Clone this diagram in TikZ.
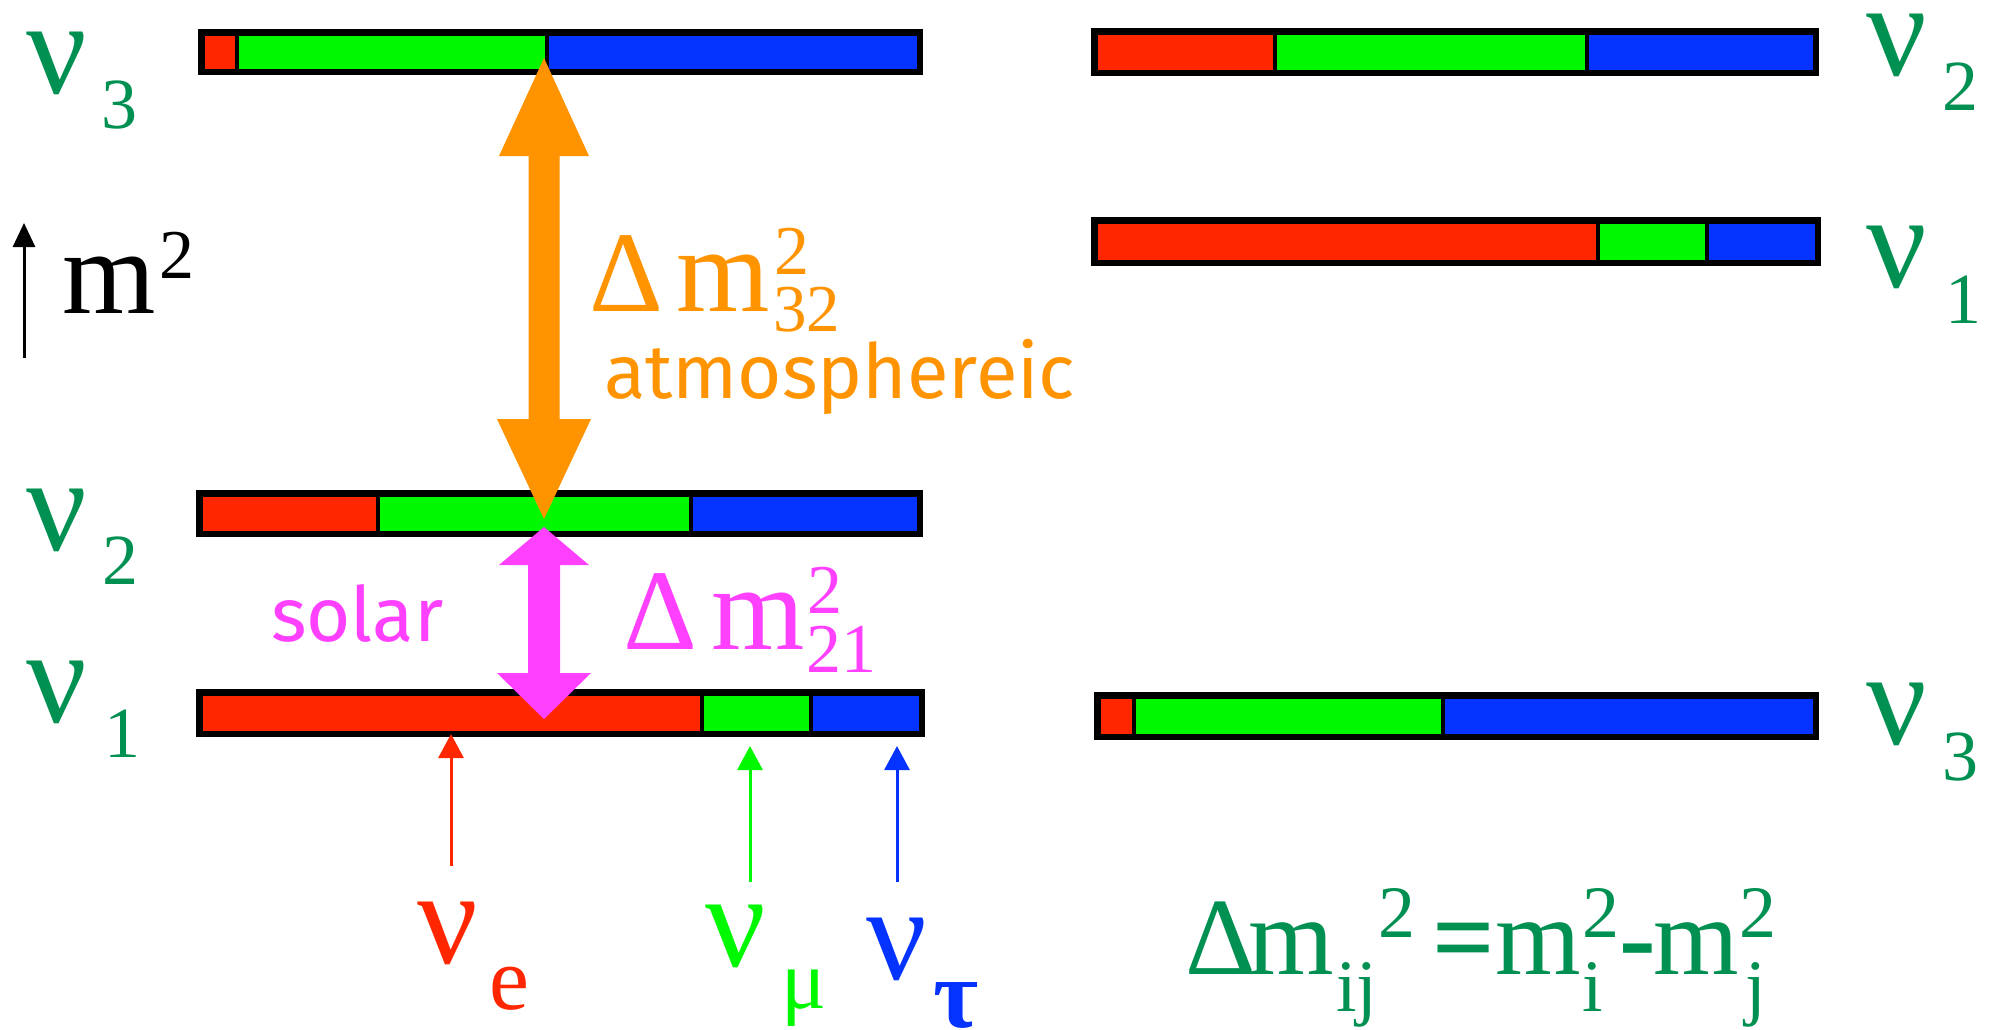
\documentclass[tikz,border=0pt]{standalone}
\usepackage{fontspec}
\setmainfont{Liberation Serif}
\newfontfamily\handfont{Fira Sans}
\usetikzlibrary{arrows.meta,calc}
\definecolor{cred}{HTML}{FF2600}
\definecolor{cgreen}{HTML}{00F900}
\definecolor{cblue}{HTML}{0433FF}
\definecolor{corange}{HTML}{FF9300}
\definecolor{cmag}{HTML}{FF40FF}
\definecolor{cmoss}{HTML}{009051}
\newcommand\mixbar[7]{%
  \fill[cred] (#2,#3) rectangle (#6,#5);
  \fill[cgreen] (#6,#3) rectangle (#7,#5);
  \fill[cblue] (#7,#3) rectangle (#4,#5);
  \draw[divider] (#6,#3) -- (#6,#5);
  \draw[divider] (#7,#3) -- (#7,#5);
  \draw[barframe] (#2+3.25,#3+3.25) rectangle (#4-3.25,#5-3.25);
  \coordinate (#1) at ({(#2+#4)/2},{(#3+#5)/2});
}
\tikzset{
  divider/.style={draw=black, line width=4.5pt},
  barframe/.style={draw=black, line width=6.5pt},
  lbl/.style={inner sep=0pt, outer sep=0pt, anchor=base west},
  nu/.style={lbl, text=cmoss, text height=0.48em, text depth=0pt, font=\fontsize{134}{134}\selectfont},
  nuidx/.style={lbl, text=cmoss, text height=0.68em, text depth=0pt, font=\fontsize{72}{72}\selectfont},
  big/.style={lbl, text height=0.66em, text depth=0pt, font=\fontsize{120}{120}\selectfont},
  scr/.style={lbl, text height=0.68em, text depth=0pt, font=\fontsize{70}{70}\selectfont},
  hand/.style={lbl, text height=0.72em, text depth=0.2em, font=\handfont\fontsize{76}{76}\selectfont},
  fbig/.style={lbl, text=cmoss, text height=0.66em, text depth=0pt, font=\fontsize{110}{110}\selectfont},
  fscr/.style={lbl, text=cmoss, text height=0.68em, text depth=0.2em, font=\fontsize{74}{74}\selectfont},
  flav/.style={line width=3pt, -{Triangle[length=24pt,width=25pt]}},
}
\begin{document}
\begin{tikzpicture}[x=1pt,y=-1pt]
\fill[white] (0,0) rectangle (1989,1029);
\useasboundingbox (0,0) rectangle (1989,1029);

% mass-state bars
\mixbar{Lthree}{198}{29}{923}{75}{237}{547}
\mixbar{Ltwo}{196}{490}{923}{537}{378}{691}
\mixbar{Lone}{196}{689}{925}{737}{702}{811}
\mixbar{Rtwo}{1091}{28}{1819}{76}{1275}{1587}
\mixbar{Rone}{1091}{217}{1821}{266}{1598}{1707}
\mixbar{Rthree}{1094}{692}{1819}{740}{1134}{1443}

% atmospheric double arrow
\coordinate (atmtop) at (544,58);
\coordinate (atmbot) at (544,519);
\fill[corange] (atmtop) -- ++(45,98) -- ++(-29.5,0) -- ($(atmbot)+(15.5,-100)$)
  -- ++(31.5,0) -- (atmbot) -- ++(-47,-100) -- ++(31.5,0)
  -- ($(atmtop)+(-15.5,98)$) -- ++(-29.5,0) -- cycle;

% solar double arrow
\coordinate (soltop) at (544,527);
\coordinate (solbot) at (544,719);
\fill[cmag] (soltop) -- ++(45,38) -- ++(-29,0) -- ($(solbot)+(16,-46)$)
  -- ++(31,0) -- (solbot) -- ++(-47,-46) -- ++(31,0)
  -- ($(soltop)+(-16,38)$) -- ++(-29,0) -- cycle;

% flavour arrows
\coordinate (eS) at (451,866);  \coordinate (eT) at (451,734);
\coordinate (mS) at (750,882);  \coordinate (mT) at (750,746);
\coordinate (tS) at (897,882);  \coordinate (tT) at (897,746);
\draw[flav, cred] (eS) -- (eT);
\draw[flav, cgreen] (mS) -- (mT);
\draw[flav, cblue] (tS) -- (tT);

% m^2 axis arrow
\coordinate (axS) at (24,358); \coordinate (axT) at (24,223);
\draw[line width=3pt, -{Triangle[length=24pt,width=22pt]}] (axS) -- (axT);
\node[big] (mlab) at (62,313) {m};
\node[scr] (mlabsup) at (159,278) {2};

% left labels
\node[nu] (nuL3) at (26,93) {ν};
\node[nuidx] (nuL3i) at (101,128) {3};
\node[nu] (nuL2) at (26,550) {ν};
\node[nuidx] (nuL2i) at (102,584) {2};
\node[nu] (nuL1) at (26,722) {ν};
\node[nuidx] (nuL1i) at (104,757) {1};

% right labels
\node[nu] (nuR2) at (1866,75) {ν};
\node[nuidx] (nuR2i) at (1942,110) {2};
\node[nu] (nuR1) at (1866,287) {ν};
\node[nuidx] (nuR1i) at (1945,323) {1};
\node[nu] (nuR3) at (1866,744) {ν};
\node[nuidx] (nuR3i) at (1942,780) {3};

% atmospheric label
\node[big, text=corange, font=\fontsize{115}{115}\selectfont] (aD) at (589,311) {Δ};
\node[big, text=corange] (aM) at (676,311) {m};
\node[scr, text=corange] (aSup) at (774,274) {2};
\node[scr, text=corange, font=\fontsize{67}{67}\selectfont] (aSub) at (773,331) {32};
\node[hand, text=corange] (atmo) at (604,398) {atmosphereic};

% solar label
\node[big, text=cmag, font=\fontsize{115}{115}\selectfont] (sD) at (623,649) {Δ};
\node[big, text=cmag] (sM) at (711,649) {m};
\node[scr, text=cmag] (sSup) at (807,613) {2};
\node[scr, text=cmag] (sSub) at (806,672) {21};
\node[hand, text=cmag] (solar) at (271,641) {solar};

% flavour labels
\node[nu, text=cred] (nue) at (417,963) {ν};
\node[lbl, text=cred, text height=0.46em, text depth=0pt, font=\fontsize{90}{90}\selectfont] (nuei) at (489,1009) {e};
\node[nu, text=cgreen] (num) at (705,966) {ν};
\node[lbl, text=cgreen, text height=0.46em, text depth=0.2em, font=\fontsize{84}{84}\selectfont] (numi) at (781,1008) {μ};
\node[nu, text=cblue] (nut) at (866,979) {ν};
\node[lbl, text=cblue, text height=0.46em, text depth=0pt, font=\bfseries\fontsize{98}{98}\selectfont] (nuti) at (933,1027) {τ};

% definition formula
\node[fbig] (fD) at (1185,974) {Δ};
\node[fbig] (fM1) at (1248,974) {m};
\node[fscr] (fij) at (1336,1011) {ij};
\node[fscr] (fs1) at (1378,937) {2};
\node[fbig, font=\bfseries\fontsize{110}{110}\selectfont] (feq) at (1432,974) {=};
\node[fbig] (fM2) at (1495,974) {m};
\node[fscr] (fs2) at (1582,937) {2};
\node[fscr] (fi) at (1582,1011) {i};
\node[fbig, font=\bfseries\fontsize{110}{110}\selectfont] (fmin) at (1619,974) {-};
\node[fbig] (fM3) at (1653,974) {m};
\node[fscr] (fs3) at (1739,937) {2};
\node[fscr] (fj) at (1745,1011) {j};
\end{tikzpicture}
\end{document}
